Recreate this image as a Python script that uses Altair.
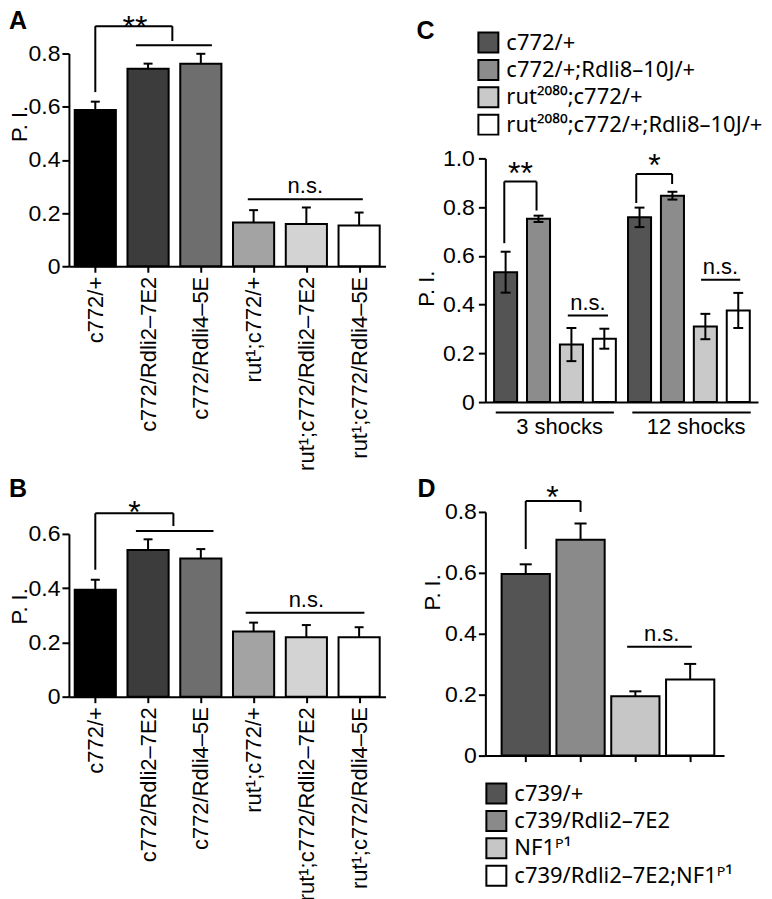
import altair as alt
import pandas as pd

FONT = "Liberation Sans"
LEGEND_FONT = "Noto Sans"

# ---------------- data ----------------
AB_labels = ["c772/+", "c772/Rdli2–7E2", "c772/Rdli4–5E",
             "rut¹;c772/+", "rut¹;c772/Rdli2–7E2", "rut¹;c772/Rdli4–5E"]
AB_colors = ["#000000", "#3c3c3c", "#6e6e6e", "#a3a3a3", "#d3d3d3", "#ffffff"]
A_mean = [0.588, 0.743, 0.762, 0.165, 0.159, 0.153]
A_sem = [0.031, 0.019, 0.037, 0.046, 0.062, 0.049]
B_mean = [0.394, 0.541, 0.509, 0.240, 0.219, 0.219]
B_sem = [0.037, 0.039, 0.035, 0.033, 0.045, 0.037]

C_series = ["c772/+", "c772/+;Rdli8–10J/+", "rut²⁰⁸⁰;c772/+", "rut²⁰⁸⁰;c772/+;Rdli8–10J/+"]
C_colors = ["#545454", "#8c8c8c", "#c9c9c9", "#ffffff"]
C_groups = ["3 shocks", "12 shocks"]
C_mean_3 = [0.533, 0.752, 0.236, 0.260]
C_sem_3 = [0.084, 0.013, 0.068, 0.041]
C_mean_12 = [0.758, 0.847, 0.310, 0.376]
C_sem_12 = [0.040, 0.016, 0.052, 0.072]

D_series = ["c739/+", "c739/Rdli2–7E2", "NF1ᴾ¹", "c739/Rdli2–7E2;NF1ᴾ¹"]
D_colors = ["#545454", "#8a8a8a", "#c6c6c6", "#ffffff"]
D_mean = [0.596, 0.709, 0.195, 0.250]
D_sem = [0.032, 0.053, 0.016, 0.051]

# significance annotations (x in bar-position units, y in P.I. units)
A_sig = [dict(x1=1, x2=2.46, foot1=0.655, top=0.903, foot2=0.847, text="**", tx=1.75)]
A_grp = [dict(x1=1.77, x2=3.21, y=0.831)]
A_ns = [dict(x1=3.89, x2=6.07, y=0.252, tx=4.98)]

B_sig = [dict(x1=1, x2=2.48, foot1=0.468, top=0.676, foot2=0.629, text="*", tx=1.74)]
B_grp = [dict(x1=1.77, x2=3.24, y=0.611)]
B_ns = [dict(x1=3.85, x2=6.10, y=0.309, tx=5.0)]

C_sig = [dict(x1=0.96, x2=1.94, foot1=0.652, top=0.905, foot2=0.786, text="**", tx=1.45),
         dict(x1=4.97, x2=6.06, foot1=0.817, top=0.936, foot2=0.895, text="*", tx=5.52)]
C_ns = [dict(x1=2.89, x2=4.11, y=0.355, tx=3.5),
        dict(x1=6.94, x2=8.13, y=0.502, tx=7.53)]
C_under = [dict(x1=0.70, x2=4.29, tx=2.64), dict(x1=4.85, x2=8.45, tx=6.79)]

D_sig = [dict(x1=1, x2=2, foot1=0.678, top=0.836, foot2=0.80, text="*", tx=1.49)]
D_ns = [dict(x1=2.85, x2=4.03, y=0.357, tx=3.48)]

# ---------------- helpers ----------------
LABEL_EXPR = "datum.value == 0 ? '0' : format(datum.value, '.1f')"


def yaxis(values, titleX, titleY, labelPadding=2):
    return alt.Axis(values=values, title="P. I.", labelExpr=LABEL_EXPR, tickSize=7,
                    labelPadding=labelPadding, titleX=titleX, titleY=titleY,
                    titleBaseline="alphabetic", titleAngle=270, titleFontSize=22,
                    titleFontWeight="normal", labelFontSize=23, grid=False)


def segments(sig, grp=(), ns=(), under=(), ybelow=-0.043):
    rows = []
    for s in sig:
        rows.append(dict(x=s["x1"], x2=s["x1"], y=s["foot1"], y2=s["top"]))
        rows.append(dict(x=s["x1"], x2=s["x2"], y=s["top"], y2=s["top"]))
        rows.append(dict(x=s["x2"], x2=s["x2"], y=s["top"], y2=s["foot2"]))
    for g in grp:
        rows.append(dict(x=g["x1"], x2=g["x2"], y=g["y"], y2=g["y"]))
    for n in ns:
        rows.append(dict(x=n["x1"], x2=n["x2"], y=n["y"], y2=n["y"]))
    for u in under:
        rows.append(dict(x=u["x1"], x2=u["x2"], y=ybelow, y2=ybelow))
    return pd.DataFrame(rows)


def panel(df, xs, ys, xax, yax, fill, hw, cap, two_sided, sig, ns, grp=(), under=(),
          sig_dy=12, width=300, height=200, title=None):
    df = df.copy()
    df["x1"] = df["pos"] - hw
    df["x2"] = df["pos"] + hw
    df["c1"] = df["pos"] - cap
    df["c2"] = df["pos"] + cap
    df["zero"] = 0.0
    df["hi"] = df["mean"] + df["sem"]
    df["lo"] = (df["mean"] - df["sem"]) if two_sided else df["mean"]

    def X(f):
        return alt.X(f, type="quantitative", scale=xs, axis=xax)

    def Y(f):
        return alt.Y(f, type="quantitative", scale=ys, axis=yax)

    base = alt.Chart(df)
    bars = base.mark_bar(stroke="black", strokeWidth=2).encode(
        x=X("x1"), x2="x2", y=Y("mean"), y2="zero", fill=fill)
    err = base.mark_rule(color="black", strokeWidth=2).encode(x=X("pos"), y=Y("lo"), y2="hi")
    caps_hi = base.mark_rule(color="black", strokeWidth=2).encode(x=X("c1"), x2="c2", y=Y("hi"))
    layers = [bars, err, caps_hi]
    if two_sided:
        layers.append(base.mark_rule(color="black", strokeWidth=2).encode(x=X("c1"), x2="c2", y=Y("lo")))

    seg = segments(sig, grp, ns, under)
    layers.append(alt.Chart(seg).mark_rule(color="black", strokeWidth=2).encode(
        x=X("x"), x2="x2", y=Y("y"), y2="y2"))

    sig_df = pd.DataFrame([dict(tx=s["tx"], ty=s["top"], text=s["text"]) for s in sig])
    layers.append(alt.Chart(sig_df).mark_text(font=FONT, fontSize=32, baseline="alphabetic",
                                             align="center", dy=sig_dy, color="black").encode(
        x=X("tx"), y=Y("ty"), text="text:N"))
    ns_df = pd.DataFrame([dict(tx=n["tx"], ty=n["y"], text="n.s.") for n in ns])
    layers.append(alt.Chart(ns_df).mark_text(font=FONT, fontSize=22, baseline="alphabetic",
                                            align="center", dy=-6, color="black").encode(
        x=X("tx"), y=Y("ty"), text="text:N"))
    if under:
        u_df = pd.DataFrame([dict(tx=u["tx"], ty=0.0, text=g) for u, g in zip(under, C_groups)])
        layers.append(alt.Chart(u_df).mark_text(font=FONT, fontSize=22, baseline="alphabetic",
                                               align="center", dy=32, color="black").encode(
            x=X("tx"), y=Y("ty"), text="text:N"))

    ch = alt.layer(*layers).properties(width=width, height=height, title=title)
    return ch


def ptitle(letter, dx, dy):
    return alt.TitleParams(text=letter, anchor="start", frame="group", fontSize=25,
                           fontWeight="bold", font=FONT, dx=dx, dy=dy, offset=0,
                           baseline="alphabetic", color="black")


def legend(x, y):
    return alt.Legend(orient="none", legendX=x, legendY=y, title=None,
                      symbolType="square", symbolSize=400,
                      symbolStrokeColor="black", symbolStrokeWidth=2,
                      labelFontSize=22, labelFont=LEGEND_FONT, labelOffset=7,
                      labelLimit=400, rowPadding=-0.6, padding=0, labelColor="black")


# ---------------- panels A and B ----------------
ab_pos = [1, 2, 3, 4, 5, 6]
ab_xs = alt.Scale(domain=[0.5, 6.5], nice=False, zero=False)
label_js = "[" + ",".join("'" + l + "'" for l in AB_labels) + "]"
ab_xax = alt.Axis(values=ab_pos, labelExpr=label_js + "[datum.value - 1]", title=None,
                  labelAngle=270, tickSize=6, labelPadding=4, labelFontSize=22,
                  labelLimit=400, grid=False)
ab_fill = alt.Fill("color:N", scale=None)

dfA = pd.DataFrame(dict(pos=ab_pos, mean=A_mean, sem=A_sem, color=AB_colors))
dfB = pd.DataFrame(dict(pos=ab_pos, mean=B_mean, sem=B_sem, color=AB_colors))

chartA = panel(dfA, ab_xs, alt.Scale(domain=[0, 0.8], nice=False),
               ab_xax, yaxis([0, 0.2, 0.4, 0.6, 0.8], -42, 70), ab_fill,
               hw=0.39, cap=0.085, two_sided=False, sig=A_sig, ns=A_ns, grp=A_grp,
               sig_dy=12, width=317, height=213, title=ptitle("A", -60, 42))
chartB = panel(dfB, ab_xs, alt.Scale(domain=[0, 0.6], nice=False),
               ab_xax, yaxis([0, 0.2, 0.4, 0.6], -42, 72), ab_fill,
               hw=0.39, cap=0.085, two_sided=False, sig=B_sig, ns=B_ns, grp=B_grp,
               sig_dy=10, width=317, height=163, title=ptitle("B", -60, 25))

# ---------------- panel C ----------------
# the C view is taller than its value range: the top strip holds the legend
C_TOP = 105
C_H = 244
c_pos = [1, 2, 3, 4, 5.07, 6.07, 7.07, 8.07]
dfC = pd.DataFrame(dict(pos=c_pos, mean=C_mean_3 + C_mean_12, sem=C_sem_3 + C_sem_12,
                        series=C_series + C_series))
c_fill = alt.Fill("series:N", scale=alt.Scale(domain=C_series, range=C_colors),
                  legend=legend(-8, -22))
chartC = panel(dfC, alt.Scale(domain=[0.385, 8.67], nice=False, zero=False),
               alt.Scale(domain=[0, 1.0], range=[C_TOP + C_H, C_TOP], nice=False),
               alt.Axis(title=None, labels=False, ticks=False, grid=False),
               yaxis([0, 0.2, 0.4, 0.6, 0.8, 1.0], -52, C_TOP + 130, labelPadding=4),
               c_fill, hw=0.35, cap=0.15, two_sided=True, sig=C_sig, ns=C_ns,
               under=C_under, sig_dy=2, width=273, height=C_TOP + C_H,
               title=ptitle("C", -69, 32))

# ---------------- panel D ----------------
d_pos = [1, 2, 3, 4]
dfD = pd.DataFrame(dict(pos=d_pos, mean=D_mean, sem=D_sem, series=D_series))
d_fill = alt.Fill("series:N", scale=alt.Scale(domain=D_series, range=D_colors),
                  legend=legend(0, 271))
chartD = panel(dfD, alt.Scale(domain=[0.2636, 4.618], nice=False, zero=False),
               alt.Scale(domain=[0, 0.8], nice=False),
               alt.Axis(values=d_pos, title=None, labels=False, tickSize=6, grid=False),
               yaxis([0, 0.2, 0.4, 0.6, 0.8], -46, 80),
               d_fill, hw=0.44, cap=0.11, two_sided=False, sig=D_sig, ns=D_ns,
               sig_dy=7, width=239, height=244, title=ptitle("D", -68, 40))

left = alt.vconcat(chartA, chartB, spacing=5).resolve_scale(
    x="independent", y="independent", fill="independent").resolve_legend(fill="independent")
right = alt.vconcat(chartC, chartD, spacing=37).resolve_scale(
    x="independent", y="independent", fill="independent").resolve_legend(fill="independent")

chart = alt.hconcat(left, right, spacing=28).resolve_scale(
    x="independent", y="independent", fill="independent").resolve_legend(
    fill="independent").properties(padding=0).configure_view(stroke="transparent").configure_axis(
    labelFont=FONT, titleFont=FONT, labelColor="black", titleColor="black",
    domainColor="black", domainWidth=2, tickColor="black", tickWidth=2).configure_text(font=FONT)

chart.save("out.html", embed_options={"renderer": "svg", "actions": False})
